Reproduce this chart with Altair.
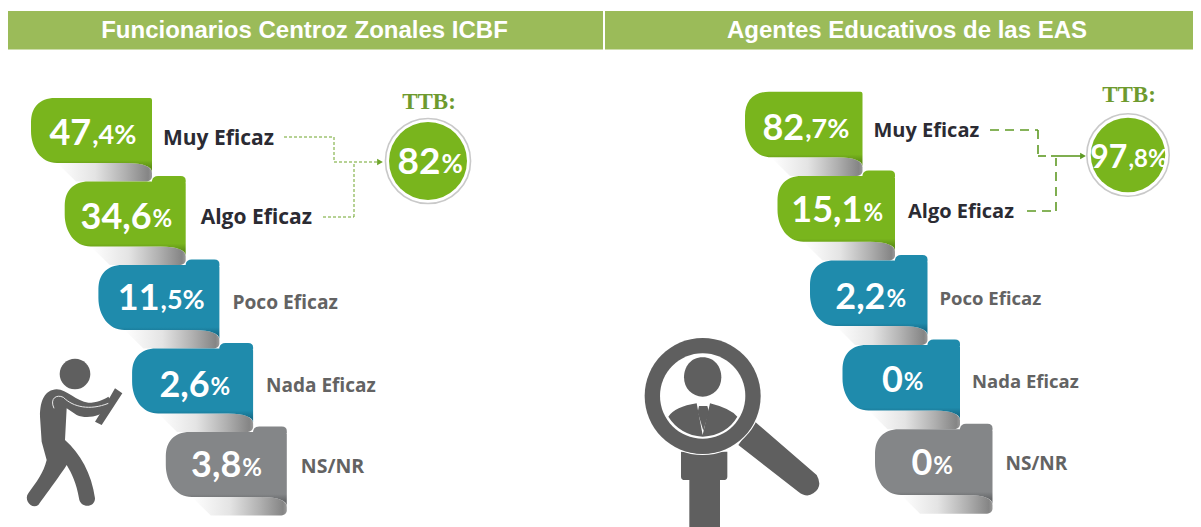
import altair as alt
import pandas as pd

TITLES = ["Funcionarios Centroz Zonales ICBF", "Agentes Educativos de las EAS"]
CATEGORIES = ["Muy Eficaz", "Algo Eficaz", "Poco Eficaz", "Nada Eficaz", "NS/NR"]
VALUES_A = [47.4, 34.6, 11.5, 2.6, 3.8]
VALUES_B = [82.7, 15.1, 2.2, 0, 0]
BIG_A = ["47", "34,6", "11", "2,6", "3,8"]
SMALL_A = [",4%", "%", ",5%", "%", "%"]
BIG_B = ["82", "15,1", "2,2", "0", "0"]
SMALL_B = [",7%", "%", "%", "%", "%"]
TTB_LABEL = "TTB:"
TTB_BIG = ["82", "97"]
TTB_SMALL = ["%", ",8%"]

GREEN, GREEN_D = "#79b51d", "#5f9216"
TEAL, TEAL_D = "#1f8bac", "#176f8c"
GREY, GREY_D = "#848688", "#66686a"
ICON = "#5f5f5f"
CARD_COLORS = [(GREEN, GREEN_D), (GREEN, GREEN_D), (TEAL, TEAL_D), (TEAL, TEAL_D), (GREY, GREY_D)]
LABEL_COLORS = ["#2b2b33", "#2b2b33", "#636363", "#636363", "#636363"]
LABEL_SIZES_A = [21, 21, 19.2, 19, 19.5]
LABEL_SIZES_B = [20, 20, 18.5, 18.5, 19]
FONT = "Lato"
LABEL_FONT = "Open Sans"
PIXEL = 4          # custom symbols: path units * sqrt(size)/2 => 1 unit = 1 px
THIRD = 4 / 9      # 1 unit = 1/3 px


def frame(n=1):
    return pd.DataFrame({"k": list(range(n))})


def body_path(w, h):
    return (f"M24 0 L{w-2} 0 Q{w} 0 {w} 2 L{w} {h+9} C{w} {h+4} {w-8} {h} {w-25} {h} "
            f"L26 {h} C10 {h} 0 {h-15} 0 {h-32} L0 24 C0 10 8 0 24 0 Z")


def curl_path(w, h, d):
    return (f"M26 {h} L{w-25} {h} C{w-8} {h} {w} {h+4} {w} {h+10} L{w} {d-5} "
            f"C{w} {d-2} {w-3} {d} {w-7} {d} L45 {d} Z")


def tab_path(w, step):
    a = w - step
    return f"M{a} 1 L{a} -1 Q{a+1} -5.5 {a+6} -5.5 L{w-5} -5.5 Q{w} -5.5 {w} -1 L{w} 1 Z"


def circle_path(cx, cy, r):
    k = 0.5523 * r
    return (f"M{cx-r} {cy} C{cx-r} {cy-k} {cx-k} {cy-r} {cx} {cy-r} C{cx+k} {cy-r} {cx+r} {cy-k} {cx+r} {cy} "
            f"C{cx+r} {cy+k} {cx+k} {cy+r} {cx} {cy+r} C{cx-k} {cy+r} {cx-r} {cy+k} {cx-r} {cy} Z")


def em_width(s, big):
    w = sum({",": 0.26, "%": 0.84}.get(c, 0.58) for c in s)
    return w * big


def grad(stops, x2=0, y2=1):
    return alt.Gradient(gradient="linear", x1=0, y1=0, x2=x2, y2=y2,
                        stops=[alt.GradientStop(color=c, offset=o) for o, c in stops])


def shape(path, fill, x, y, size=THIRD):
    return alt.Chart(frame()).mark_point(shape=path, filled=True, fill=fill, size=size,
                                         opacity=1, strokeWidth=0).encode(
        x=alt.value(x), y=alt.value(y))


def outline(path, color, width, x, y, size=THIRD):
    return alt.Chart(frame()).mark_point(shape=path, filled=False, stroke=color, size=size,
                                         opacity=1, strokeWidth=width, fill=None).encode(
        x=alt.value(x), y=alt.value(y))


def seg(x1, y1, x2, y2, color, width, dash=None):
    kw = {"strokeDash": dash} if dash else {}
    return alt.Chart(frame()).mark_rule(color=color, strokeWidth=width, **kw).encode(
        x=alt.value(x1), x2=alt.value(x2), y=alt.value(y1), y2=alt.value(y2))


def label(text, x, y, size, color, font=FONT, align="center", weight="bold", base="alphabetic"):
    return alt.Chart(pd.DataFrame({"t": [text]})).mark_text(
        font=font, fontSize=size, color=color, align=align, fontWeight=weight, baseline=base
    ).encode(text="t:N", x=alt.value(x), y=alt.value(y))


def panel(idx, values, bigs, smalls, left0, dx, top0, dy, w, h, val_pos, lab_pos, lab_sizes, big_sz, hdr_w):
    df = pd.DataFrame({"rank": range(5), "cat": CATEGORIES, "value": values,
                       "big": bigs, "small": smalls})
    X = alt.X("rank:Q", axis=None, scale=alt.Scale(domain=[0, 4], range=[left0, left0 + 4 * dx]))
    Y = alt.Y("rank:Q", axis=None, scale=alt.Scale(domain=[0, 4], range=[top0, top0 + 4 * dy]))
    enc = dict(x=X, y=Y)
    layers = []
    layers.append(alt.Chart(frame()).mark_rect(color="#9bbb59").encode(
        x=alt.value(0), x2=alt.value(hdr_w), y=alt.value(3), y2=alt.value(41.5)))
    center = 296.5 if idx == 0 else 302
    layers.append(label(TITLES[idx], center, 30, 24, "white", font="Liberation Sans"))
    # curl shadows
    layers.append(alt.Chart(df).mark_point(
        shape=curl_path(w, h, dy), filled=True, size=PIXEL, opacity=1, strokeWidth=0,
        fill=grad([(0, "#ffffff"), (0.4, "#e4e4e4"), (0.72, "#b0b0b0"), (0.96, "#858585"), (1, "#9a9a9a")], 1, 0)
    ).encode(**enc))
    for r in range(5):
        main, dark = CARD_COLORS[r]
        d = df[df["rank"] == r]
        if r > 0:
            layers.append(alt.Chart(d).mark_point(
                shape=tab_path(w, dx), filled=True, fill=main, size=PIXEL, opacity=1, strokeWidth=0
            ).encode(**enc))
        layers.append(alt.Chart(d).mark_point(
            shape=body_path(w, h), filled=True, size=PIXEL, opacity=1, strokeWidth=0,
            fill=grad([(0, main), (0.84, main), (0.93, dark), (1, dark)])
        ).encode(**enc))
        cx, cy = val_pos[r]
        small_sz = 24 if smalls[r] == "%" else 27
        bw, sw = em_width(bigs[r], big_sz), em_width(smalls[r], small_sz)
        jx = cx + (bw - sw) / 2
        layers.append(alt.Chart(d).mark_text(
            font=FONT, fontWeight="bold", fontSize=big_sz, color="white", align="right",
            baseline="alphabetic", dx=jx, dy=cy + 12).encode(text="big:N", **enc))
        layers.append(alt.Chart(d).mark_text(
            font=FONT, fontWeight="bold", fontSize=small_sz, color="white", align="left",
            baseline="alphabetic", dx=jx + 1, dy=cy + 10.5).encode(text="small:N", **enc))
        lx, ly = lab_pos[r]
        layers.append(alt.Chart(d).mark_text(
            font=LABEL_FONT, fontWeight="bold", fontSize=lab_sizes[r], color=LABEL_COLORS[r], align="left",
            baseline="alphabetic", dx=w + lx, dy=ly + 7).encode(text="cat:N", **enc))
    return layers


OX, OY = 8, 8
# ---------- left panel
lp = panel(0, VALUES_A, BIG_A, SMALL_A, 31 - OX, 33.7, 98 - OY, 83.5, 121, 65,
           [(62, 35), (61, 35), (63, 33), (62, 36), (60, 33)],
           [(11, 40), (15, 35), (13, 37), (13, 36.5), (14, 34)], LABEL_SIZES_A, 36, 595)
ax, ay = -OX, 260 - OY
person = ("M120 470 C120 420 135 390 170 388 C200 388 230 425 265 428 C290 428 310 420 325 410 L335 425 L330 445 "
          "C300 470 260 478 230 465 L200 445 L195 540 C240 580 275 640 285 715 C285 745 240 745 237 715 "
          "C230 670 215 640 200 615 C185 640 140 700 115 735 C95 750 70 720 85 700 C110 665 130 640 140 600 L125 545 Z")
book = "M345 385 L367 400 L305 495 L285 485 L318 432 Z"
arm_line = "M162 445 C148 415 170 402 190 412 C220 442 270 452 325 430"
lp += [shape(person, ICON, ax, ay), shape(book, ICON, ax, ay),
       shape(circle_path(225, 342, 46), ICON, ax, ay),
       outline(arm_line, "#e8e8e8", 1, ax, ay)]
G1 = "#6fa52b"
lp += [seg(284 - OX, 137 - OY, 334 - OX, 137 - OY, G1, 1, [3, 2]),
       seg(334 - OX, 137 - OY, 334 - OX, 162 - OY, G1, 1, [3, 2]),
       seg(334 - OX, 162 - OY, 380 - OX, 162 - OY, G1, 1, [3, 2]),
       seg(323 - OX, 217 - OY, 354 - OX, 217 - OY, G1, 1, [3, 2]),
       seg(354 - OX, 217 - OY, 354 - OX, 162 - OY, G1, 1, [3, 2]),
       alt.Chart(frame()).mark_point(shape="triangle-right", filled=True, fill=G1, size=45, opacity=1,
                                     strokeWidth=0).encode(x=alt.value(380 - OX), y=alt.value(162 - OY))]


def ttb(cx, cy, r, R, big, small, tcy, bs, ss, nudge):
    out = [alt.Chart(frame()).mark_point(shape="circle", filled=False, stroke="#c9c9c9", strokeWidth=1.6,
                                         size=3.1416 * R * R, opacity=1).encode(x=alt.value(cx), y=alt.value(cy)),
           alt.Chart(frame()).mark_point(shape="circle", filled=True, fill=GREEN, strokeWidth=0,
                                         size=3.1416 * r * r, opacity=1).encode(x=alt.value(cx), y=alt.value(cy)),
           label(TTB_LABEL, cx + 1, tcy + 7, 23, "#6e9a2e", font="Liberation Serif")]
    bw, sw = em_width(big, bs), em_width(small, ss)
    jx = cx + (bw - sw) / 2 + nudge
    out.append(label(big, jx, cy + 13, bs, "white", align="right"))
    out.append(label(small, jx + 1, cy + 12, ss, "white", align="left"))
    return out


lp += ttb(428 - OX, 161 - OY, 44, 48, TTB_BIG[0], TTB_SMALL[0], 102 - OY, 37, 26, 2)

# ---------- right panel
OX2 = 605
rp = panel(1, VALUES_B, BIG_B, SMALL_B, 745 - OX2, 32.5, 91.7 - OY, 84.4, 117.5, 65.6,
           [(61, 36), (59, 34), (60, 36), (60, 35), (57, 34)],
           [(11, 38), (13, 35), (12, 37), (12, 36), (13, 34)], LABEL_SIZES_B, 36, 588)
ax2, ay2 = 620 - OX2, 280 - OY
stand = ("M183 515 L322 515 L322 590 Q322 600 310 600 L300 600 L300 741 L208 741 L208 600 L195 600 "
         "Q183 600 183 590 Z")
handle = "M405 425 L590 585 Q610 620 580 640 Q560 655 535 635 L355 495 Z"
shoulders = "M145 410 Q165 380 230 370 L248 465 L270 370 Q330 385 352 410 Q320 465 248 470 Q180 465 145 410 Z"
tie = "M237 378 L262 378 L267 396 L250 452 L233 396 Z"
head = "M248 232 C285 232 304 262 304 292 C304 325 280 350 248 350 C216 350 192 325 192 292 C192 262 211 232 248 232 Z"
rp += [shape(stand, ICON, ax2, ay2), shape(handle, ICON, ax2, ay2),
       outline(circle_path(248, 348, 175), "#ffffff", 1.5, ax2, ay2),
       shape(circle_path(248, 348, 174), ICON, ax2, ay2),
       shape(circle_path(248, 348, 128), "#ffffff", ax2, ay2),
       shape(head, ICON, ax2, ay2), shape(shoulders, ICON, ax2, ay2), shape(tie, ICON, ax2, ay2)]
G2 = "#5f9a25"
D2 = [9, 6]
rp += [seg(990 - OX2, 130 - OY, 1038 - OX2, 130 - OY, G2, 1.6, D2),
       seg(1038 - OX2, 130 - OY, 1038 - OX2, 156 - OY, G2, 1.6, D2),
       seg(1038 - OX2, 156 - OY, 1046 - OX2, 156 - OY, G2, 1.6),
       seg(1051 - OX2, 156 - OY, 1082 - OX2, 156 - OY, G2, 1.6),
       seg(1027 - OX2, 211 - OY, 1056 - OX2, 211 - OY, G2, 1.6, D2),
       seg(1056 - OX2, 211 - OY, 1056 - OX2, 158 - OY, G2, 1.6, D2),
       alt.Chart(frame()).mark_point(shape="triangle-right", filled=True, fill=G2, size=45, opacity=1,
                                     strokeWidth=0).encode(x=alt.value(1083 - OX2), y=alt.value(156 - OY))]
rp += ttb(1128 - OX2, 155 - OY, 42, 46.5, TTB_BIG[1], TTB_SMALL[1], 95 - OY, 32, 24, 1)

left = alt.layer(*lp).properties(width=597, height=511)
right = alt.layer(*rp).properties(width=588, height=511)
chart = alt.hconcat(left, right, spacing=0).properties(padding=0, background="white").configure_view(stroke=None)
chart.save("out.html", embed_options={"renderer": "svg", "actions": False})
